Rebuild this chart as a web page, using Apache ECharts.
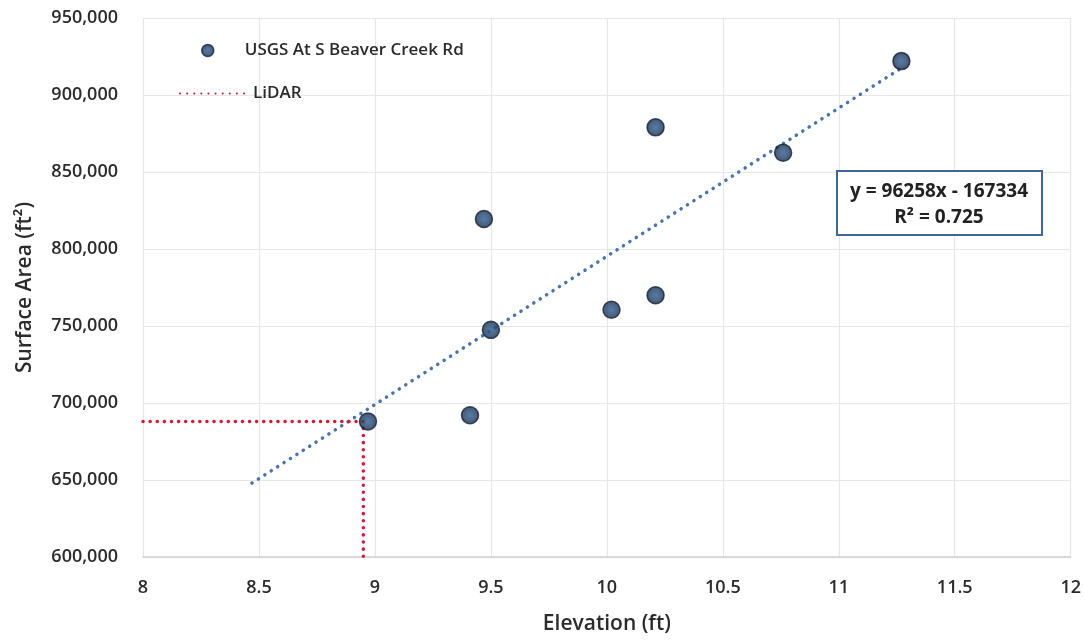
<!DOCTYPE html>
<html>
<head>
<meta charset="utf-8">
<script src="https://cdn.jsdelivr.net/npm/echarts@6/dist/echarts.min.js"></script>
<style>html,body{margin:0;padding:0;background:#fff}#c{width:1084px;height:643px}</style>
</head>
<body>
<div id="c"></div>
<script>
// Observed points (Elevation ft, Surface Area ft2)
const elevation = [8.97, 9.41, 9.50, 9.47, 10.02, 10.21, 10.21, 10.76, 11.27];
const surfaceArea = [688000, 692000, 747500, 819500, 760500, 770000, 879000, 862500, 922000];
// Trendline endpoints as drawn
const trendX = [8.47, 11.27];
const trendY = [648000, 917500];
// LiDAR reference line vertices
const lidarX = [8.0, 8.95, 8.95];
const lidarY = [688000, 688000, 600000];
const xTicks = [8, 8.5, 9, 9.5, 10, 10.5, 11, 11.5, 12];
const yTicks = [600000, 650000, 700000, 750000, 800000, 850000, 900000, 950000];
const seriesNames = ['USGS At S Beaver Creek Rd', 'LiDAR'];
const equationText = ['y = 96258x - 167334', 'R² = 0.725'];

const font = '"Open Sans", "Noto Sans", sans-serif';
const txt = '#2b2b2b';
const chart = echarts.init(document.getElementById('c'), null, {renderer: 'canvas'});
const pts = elevation.map((x, i) => [x, surfaceArea[i]]);
const trend = trendX.map((x, i) => [x, trendY[i]]);
const lidar = lidarX.map((x, i) => [x, lidarY[i]]);

const dotColor = {type: 'radial', x: 0.5, y: 0.5, r: 0.5,
  colorStops: [{offset: 0, color: '#2b5b94'}, {offset: 0.55, color: '#21426b'}, {offset: 1, color: '#17283f'}]};

chart.setOption({
  animation: false,
  backgroundColor: '#fff',
  grid: {left: 143, right: 13, top: 18, bottom: 86},
  legend: [
    {data: [{name: seriesNames[0], itemStyle: {color: dotColor, borderColor: '#14233a', borderWidth: 1.5}}],
     left: 196, top: 37, itemWidth: 30, itemHeight: 12, itemGap: 10,
     textStyle: {fontFamily: font, fontSize: 17, fontWeight: 600, color: txt, padding: [0, 0, 0, 17]}},
    {data: [{name: seriesNames[1], itemStyle: {color: 'rgba(0,0,0,0)', borderWidth: 0}}],
     left: 174, top: 80, itemWidth: 68, itemHeight: 14, itemGap: 8,
     textStyle: {fontFamily: font, fontSize: 17, fontWeight: 600, color: txt, padding: [0, 0, 0, 0]}}
  ],
  xAxis: {
    type: 'value', min: 8, max: 12, interval: 0.5,
    name: 'Elevation (ft)', nameLocation: 'middle', nameGap: 57,
    nameTextStyle: {fontFamily: font, fontSize: 21, fontWeight: 600, color: txt},
    axisLine: {show: true, lineStyle: {color: '#d0d0d0', width: 1.5}},
    axisTick: {show: false},
    axisLabel: {fontFamily: font, fontSize: 18, fontWeight: 600, color: txt, margin: 22,
      formatter: v => String(v)},
    splitLine: {show: true, lineStyle: {color: '#e6e6e6', width: 1.2}}
  },
  yAxis: {
    type: 'value', min: 600000, max: 950000, interval: 50000,
    name: 'Surface Area (ft²)', nameLocation: 'middle', nameGap: 107,
    nameTextStyle: {fontFamily: font, fontSize: 21, fontWeight: 600, color: txt},
    axisLine: {show: false},
    axisTick: {show: false},
    axisLabel: {fontFamily: font, fontSize: 18, fontWeight: 600, color: txt, margin: 25,
      formatter: v => v.toLocaleString('en-US')},
    splitLine: {show: true, lineStyle: {color: '#e6e6e6', width: 1.2}}
  },
  series: [
    {
      name: 'trend', type: 'line', data: trend, symbol: 'none', silent: true,
      lineStyle: {color: '#4a73aa', width: 3.5, type: [0.1, 7.5], cap: 'round'}, z: 2
    },
    {
      name: seriesNames[1], type: 'line', data: lidar, symbol: 'none',
      lineStyle: {color: '#d3193a', width: 3.5, type: [0.1, 7], cap: 'round'},
      itemStyle: {color: '#d3193a'}, z: 3
    },
    {
      name: seriesNames[0], type: 'scatter', data: pts, symbolSize: 17,
      itemStyle: {color: dotColor, borderColor: '#14233a', borderWidth: 1.5}, z: 4
    }
  ],
  graphic: [
    {type: 'rect', left: 836, top: 170, shape: {width: 205, height: 64},
     style: {fill: '#fff', stroke: '#3f6699', lineWidth: 2}, z: 10},
    {type: 'text', x: 939, y: 192, z: 11,
     style: {text: equationText[0], align: 'center', verticalAlign: 'middle',
       fontFamily: font, fontSize: 19, fontWeight: 'bold', fill: '#222'}},
    {type: 'text', x: 939, y: 218, z: 11,
     style: {text: equationText[1], align: 'center', verticalAlign: 'middle',
       fontFamily: font, fontSize: 19, fontWeight: 'bold', fill: '#222'}}
  ]
});
</script>
</body>
</html>
